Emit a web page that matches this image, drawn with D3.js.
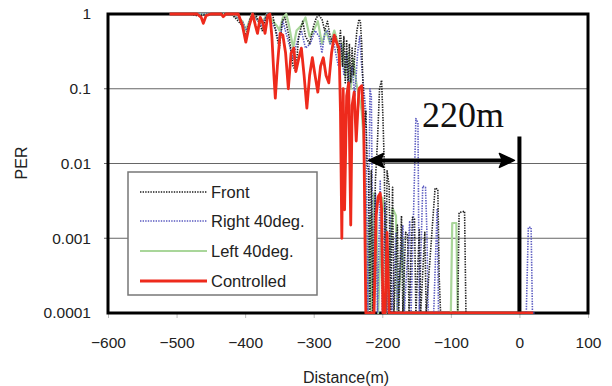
<!DOCTYPE html>
<html><head><meta charset="utf-8">
<script src="https://cdn.jsdelivr.net/npm/d3@7"></script>
<style>
html,body{margin:0;padding:0;background:#fff;}
text{font-family:"Liberation Sans",Arial,sans-serif;fill:#222;}
</style></head>
<body><svg id="c" width="612" height="386"></svg>
<script>
// ---- data ----
const xTicks = [-600,-500,-400,-300,-200,-100,0,100];
const yTicks = [1,0.1,0.01,0.001,0.0001];
const yTickLabels = ["1","0.1","0.01","0.001","0.0001"];
const seriesNames = ["Front","Right 40deg.","Left 40deg.","Controlled"];

const frontDist = [-510,-480,-470,-450,-420,-404,-399,-392,-385,-375,-368,-360,-354,-350,-346,-342,-336,-330,-326,-322,-316,-312,-306,-300,-296,-292,-288,-284,-280,-276,-272,-268,-264,-261,-258,-256,-254,-252,-250,-248,-246,-244,-242,-240,-237,-234,-232,-230,-228,-226,-224,-222,-220,-218,-216,-214,-210,-207,-204,-201,-199,-197,-195,-193,-190,-188,-185,-183,-178,-176,-172,-170,-166,-163,-161,-156,-153,-151,-146,-144,-138,-136,-123,-119,-117,-115,-90,-88,-80,-78];
const frontPER  = [1,1,0.95,1,1,0.7,0.5,0.9,1,0.6,1,1,0.5,0.35,0.8,0.9,0.5,0.2,0.17,0.5,0.8,0.5,0.4,0.7,0.9,0.95,0.85,0.6,0.8,0.5,0.4,0.5,0.3,0.6,0.2,0.5,0.12,0.45,0.1,0.4,0.12,0.35,0.15,0.3,0.6,0.85,0.8,0.4,0.1,0.03,0.05,0.01,0.008,0.0001,0.008,0.0001,0.006,0.02,0.1,0.13,0.04,0.009,0.0001,0.008,0.005,0.0001,0.0048,0.0001,0.0015,0.0001,0.002,0.0001,0.0012,0.0011,0.0001,0.0019,0.0018,0.0001,0.0013,0.0001,0.0012,0.0001,0.0047,0.0045,0.0003,0.0001,0.0001,0.0022,0.0023,0.0001];

const rightDist = [-510,-480,-450,-420,-404,-398,-390,-376,-368,-355,-350,-345,-336,-330,-325,-318,-312,-305,-298,-292,-288,-284,-280,-276,-272,-268,-264,-260,-256,-252,-248,-244,-240,-236,-233,-230,-227,-224,-221,-218,-216,-213,-210,-207,-203,-200,-196,-193,-188,-186,-180,-178,-170,-168,-160,-158,-151,-148,-146,-141,-137,-135,-133,-125,-120,-118,10,13,17,19,22];
const rightPER  = [1,1,1,1,0.8,0.6,1,0.7,1,0.6,0.4,0.8,0.4,0.25,0.4,0.6,0.35,0.4,0.6,0.5,0.3,0.55,0.6,0.4,0.5,0.3,0.2,0.4,0.15,0.3,0.1,0.2,0.08,0.3,0.5,0.2,0.1,0.05,0.0001,0.1,0.08,0.0001,0.004,0.0001,0.006,0.0001,0.003,0.0001,0.002,0.0001,0.0012,0.0001,0.0015,0.0001,0.0017,0.0001,0.04,0.035,0.0001,0.005,0.0048,0.0013,0.0001,0.0001,0.0025,0.0001,0.0001,0.0014,0.0014,0.0001,0.0001];

const leftDist = [-510,-480,-450,-420,-404,-399,-390,-376,-368,-354,-350,-345,-340,-336,-330,-325,-318,-312,-306,-300,-294,-288,-282,-276,-270,-266,-262,-258,-254,-250,-246,-242,-238,-234,-230,-227,-224,-221,-218,-216,-212,-209,-206,-200,-196,-194,-185,-180,-178,-170,-168,-100,-98,-92,-90,-85];
const leftPER  = [1,1,1,1,0.8,0.6,1,0.75,1,0.7,0.6,0.9,1,0.7,0.35,0.6,0.7,0.9,0.5,0.6,0.8,0.4,0.6,0.4,0.6,0.45,0.2,0.4,0.15,0.3,0.1,0.25,0.12,0.08,0.05,0.02,0.003,0.0001,0.002,0.0001,0.004,0.003,0.0001,0.0035,0.002,0.0001,0.0025,0.002,0.0001,0.001,0.0001,0.0001,0.0016,0.0016,0.0001,0.0001];

const ctrlDist = [-510,-470,-464,-461,-457,-450,-435,-432,-428,-410,-404,-399,-394,-389,-385,-382,-378,-374,-371,-367,-364,-361,-358,-356,-353,-349,-345,-341,-337,-333,-329,-326,-322,-318,-314,-310,-306,-302,-298,-294,-290,-286,-282,-278,-274,-270,-266,-263,-261,-259,-257,-255,-252,-249,-246,-244,-241,-238,-234,-230,-227,-224,-212,-209,-206,-203,-201,-199,-196,-193,-190,20];
const ctrlPER  = [1,1,0.9,0.75,0.95,1,1,0.92,1,1,0.7,0.42,0.7,1,0.7,0.55,0.9,0.75,0.55,0.95,1,0.5,0.15,0.075,0.2,0.55,0.52,0.3,0.1,0.3,0.35,0.17,0.25,0.35,0.15,0.055,0.15,0.26,0.15,0.09,0.2,0.26,0.15,0.12,0.3,0.52,0.4,0.35,0.05,0.001,0.1,0.0024,0.08,0.12,0.0015,0.06,0.09,0.02,0.1,0.11,0.03,0.0001,0.0001,0.002,0.0036,0.004,0.0025,0.0001,0.0001,0.0012,0.0001,0.0001];

// annotation values (data units)
const spanStart = -220, spanEnd = 0, spanLevel = 0.011;
const markerTop = 0.023, markerBottom = 0.000105;
const spanLabel = "220m";

// ---- drawing ----
const svg = d3.select("#c");
const L = 108, R = 588, T = 14, B = 313;
const x = d3.scaleLinear().domain([-600,100]).range([L,R]);
const y = d3.scaleLog().domain([0.0001,1]).range([B,T]);

svg.append("defs").append("clipPath").attr("id","clip")
  .append("rect").attr("x",L).attr("y",T-2).attr("width",R-L).attr("height",B-T+3);

// gridlines
svg.append("g").selectAll("line").data([0.1,0.01,0.001]).join("line")
  .attr("x1",L-4).attr("x2",R).attr("y1",d=>y(d)).attr("y2",d=>y(d))
  .attr("stroke","#666").attr("stroke-width",1);

// x axis
const xAxis = d3.axisBottom(x).tickValues(xTicks).tickSize(5).tickPadding(19)
  .tickFormat(d => d < 0 ? "\u2212" + Math.abs(d) : String(d));
const gx = svg.append("g").attr("transform",`translate(0,${B})`).call(xAxis);
gx.select(".domain").remove();
gx.selectAll(".tick line").attr("stroke","#bbb");
gx.selectAll("text").attr("font-size","15.5px").attr("fill","#222");

// y axis
const yAxis = d3.axisLeft(y).tickValues(yTicks).tickSize(0).tickPadding(17)
  .tickFormat((d,i) => yTickLabels[i]);
const gy = svg.append("g").attr("transform",`translate(${L},0)`).call(yAxis);
gy.select(".domain").remove();
gy.selectAll("text").attr("font-size","15.5px").attr("fill","#222");

// axis titles
svg.append("text").attr("x",346).attr("y",383).attr("text-anchor","middle")
  .attr("font-size","16px").text("Distance(m)");
svg.append("text").attr("transform","translate(27,163) rotate(-90)")
  .attr("text-anchor","middle").attr("font-size","16px").text("PER");

// frame
svg.append("rect").attr("x",L).attr("y",T).attr("width",R-L).attr("height",B-T)
  .attr("fill","none").attr("stroke","#000").attr("stroke-width",3);

// series
const styles = [
  {color:"#1e1e1e", width:1.6, dash:"1.4,1.2"},
  {color:"#5a5ac0", width:1.6, dash:"1.4,1.2"},
  {color:"#a9d69a", width:2.2, dash:null},
  {color:"#ee2a1c", width:2.8, dash:null}
];
const series = [
  d3.zip(frontDist, frontPER),
  d3.zip(rightDist, rightPER),
  d3.zip(leftDist, leftPER),
  d3.zip(ctrlDist, ctrlPER)
];
const line = d3.line().x(d=>x(d[0])).y(d=>y(d[1]));
const gLines = svg.append("g").attr("clip-path","url(#clip)");
[2,1,0,3].forEach(i => {
  const p = gLines.append("path").datum(series[i]).attr("d",line)
    .attr("fill","none").attr("stroke",styles[i].color)
    .attr("stroke-width",styles[i].width).attr("stroke-linejoin","round");
  if (styles[i].dash) p.attr("stroke-dasharray",styles[i].dash);
});

// annotation: double arrow + vertical marker + label
const ay = y(spanLevel);
const x1 = x(spanStart), x2 = x(spanEnd);
svg.append("line").attr("x1",x1+10).attr("x2",x2-10).attr("y1",ay).attr("y2",ay)
  .attr("stroke","#000").attr("stroke-width",4);
svg.append("path").attr("d",`M${x1},${ay} L${x1+15},${ay-7} L${x1+12},${ay} L${x1+15},${ay+7} Z`)
  .attr("fill","#000").attr("stroke","#000").attr("stroke-width",1.5).attr("stroke-linejoin","round");
svg.append("path").attr("d",`M${x2-5},${ay} L${x2-20},${ay-7} L${x2-17},${ay} L${x2-20},${ay+7} Z`)
  .attr("fill","#000").attr("stroke","#000").attr("stroke-width",1.5).attr("stroke-linejoin","round");
svg.append("line").attr("x1",x2).attr("x2",x2).attr("y1",y(markerTop)).attr("y2",y(markerBottom))
  .attr("stroke","#000").attr("stroke-width",4);
svg.append("text").attr("x",422).attr("y",127)
  .style("font-family","'Liberation Serif','Times New Roman',serif")
  .attr("font-size","36px").style("fill","#111").text(spanLabel);

// legend
const lg = svg.append("g");
lg.append("rect").attr("x",128).attr("y",172).attr("width",189).attr("height",123)
  .attr("fill","#fff").attr("stroke","#777").attr("stroke-width",1.5);
const ly = [192,221,251,281];
seriesNames.forEach((n,i) => {
  const l = lg.append("line").attr("x1",140).attr("x2",207).attr("y1",ly[i]).attr("y2",ly[i])
    .attr("stroke",styles[i].color).attr("stroke-width",styles[i].width);
  if (styles[i].dash) l.attr("stroke-dasharray",styles[i].dash);
  lg.append("text").attr("x",211).attr("y",ly[i]).attr("dy","0.36em")
    .attr("font-size","16.5px").text(n);
});
</script></body></html>
